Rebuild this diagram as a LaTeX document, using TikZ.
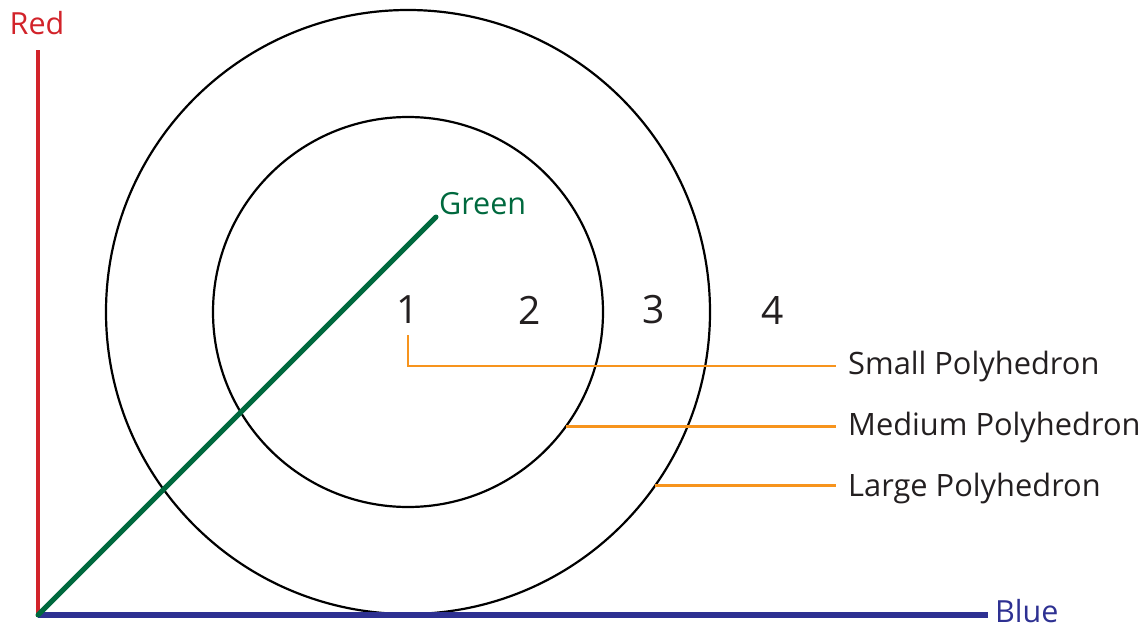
\documentclass[tikz,border=0pt]{standalone}
\usepackage{fontspec}
\setmainfont{Open Sans}
\definecolor{axred}{HTML}{D2232A}
\definecolor{axgreen}{HTML}{00693E}
\definecolor{axblue}{HTML}{2E3192}
\definecolor{lead}{HTML}{F7941D}
\definecolor{txt}{HTML}{231F20}
\tikzset{
  ring/.style={circle, draw=black, line width=2.2pt, inner sep=0pt, outer sep=0pt},
  num/.style={font=\fontsize{39}{41}\selectfont, text=txt, inner sep=0pt},
  lbl/.style={font=\fontsize{30.8}{33}\selectfont, text=txt, anchor=west, inner ysep=0pt, inner xsep=12pt},
  axlbl/.style={font=\fontsize{30.5}{33}\selectfont, inner sep=0pt},
  leader/.style={draw=lead, line width=2.8pt},
}
\begin{document}
\begin{tikzpicture}[x=1pt,y=-1pt]
\useasboundingbox (0,0) rectangle (1148,629);
% circles
\node[ring, minimum size=604pt] (outer) at (408,312) {};
\node[ring, minimum size=390pt] (inner) at (408,312) {};
% axes
\coordinate (O) at (38,615);
\coordinate (rtop) at (38,50);
\coordinate (bend) at (988,615);
\coordinate (gend) at (436,217);
\draw[axred, line width=4pt] (O) -- (rtop);
\draw[axblue, line width=6pt] (O) -- (bend);
\draw[axgreen, line width=5pt, line cap=round] (O) -- (gend);
\node[axlbl, text=axred] (red) at (37,23) {Red};
\node[axlbl, text=axblue, anchor=west] (blue) at (995,611) {Blue};
\node[axlbl, text=axgreen, anchor=west] (green) at (439,204) {Green};
% numbers
\node[num] (n1) at (408,310) {1};
\node[num] (n2) at (530,310) {2};
\node[num] (n3) at (654,310) {3};
\node[num] (n4) at (773,310) {4};
% labels
\node[lbl] (small) at (836,366) {Small Polyhedron};
\node[lbl] (medium) at (836,427) {Medium Polyhedron};
\node[lbl] (large) at (836,488) {Large Polyhedron};
% leaders
\coordinate (s0) at ([yshift=-11pt]n1.south);
\draw[leader] (s0) |- (small.west);
\draw[leader] (inner.-36.1) -- (inner.-36.1 -| medium.west);
\draw[leader] (outer.-35.6) -- (outer.-35.6 -| large.west);
\end{tikzpicture}
\end{document}
